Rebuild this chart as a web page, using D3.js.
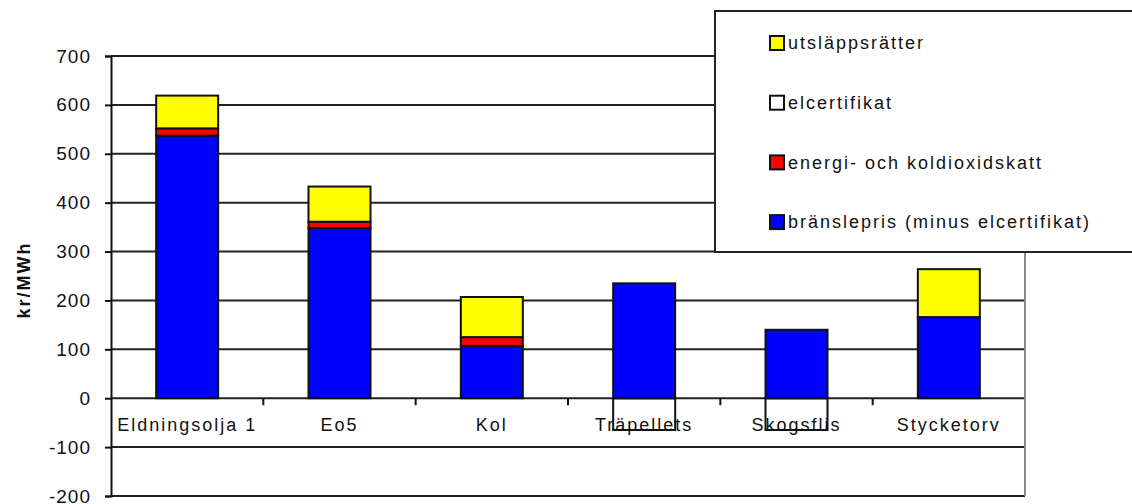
<!DOCTYPE html>
<html>
<head>
<meta charset="utf-8">
<script src="https://cdn.jsdelivr.net/npm/d3@7"></script>
<style>
  body { margin: 0; background: #fff; }
  text { font-family: Arial, "Liberation Sans", sans-serif; fill: #111; }
</style>
</head>
<body>
<div class="chart"></div>
<script>
// fuel cost per MWh, split in components
const categories = ["Eldningsolja 1", "Eo5", "Kol", "Träpellets", "Skogsflis", "Stycketorv"];
const bransle = [537, 348, 107, 235, 140, 166];
const skatt = [15, 13, 18, 0, 0, 0];
const elcert = [0, 0, 0, -65, -65, 0];
const utslapp = [67, 72, 82, 0, 0, 98];
const yTicks = [700, 600, 500, 400, 300, 200, 100, 0, -100, -200];

const legendItems = [
  { label: "utsläppsrätter", color: "#ffff00" },
  { label: "elcertifikat", color: "#ffffff" },
  { label: "energi- och koldioxidskatt", color: "#ff0000" },
  { label: "bränslepris (minus elcertifikat)", color: "#0000ff" }
];

const W = 1132, H = 504;
const plot = { left: 111, right: 1025, top: 56, bottom: 496 };

const svg = d3.select(".chart").append("svg")
  .attr("width", W).attr("height", H);

const x = d3.scaleBand().domain(categories).range([plot.left, plot.right]);
const y = d3.scaleLinear().domain([-200, 700]).range([plot.bottom, plot.top]);

// gridlines
svg.append("g").selectAll("line").data(yTicks).join("line")
  .attr("x1", plot.left).attr("x2", plot.right)
  .attr("y1", d => y(d)).attr("y2", d => y(d))
  .attr("stroke", "#222").attr("stroke-width", 2);

// right edge of plot
svg.append("line")
  .attr("x1", plot.right).attr("x2", plot.right).attr("y1", plot.top).attr("y2", plot.bottom)
  .attr("stroke", "#888").attr("stroke-width", 2);

// stacked bars
const barW = 62;
const rows = categories.map((c, i) => ({
  cat: c,
  parts: [
    { v0: 0, v1: bransle[i], color: "#0000ff" },
    { v0: bransle[i], v1: bransle[i] + skatt[i], color: "#ff0000" },
    { v0: bransle[i] + skatt[i], v1: bransle[i] + skatt[i] + utslapp[i], color: "#ffff00" },
    { v0: 0, v1: elcert[i], color: "none" }
  ].filter(p => p.v1 !== p.v0)
}));

// y axis
const yAxis = d3.axisLeft(y).tickValues(yTicks).tickSize(6).tickPadding(14)
  .tickFormat(d => String(d));
const ga = svg.append("g").attr("transform", `translate(${plot.left},0)`).call(yAxis);
ga.select(".domain").attr("stroke", "#111").attr("stroke-width", 2);
ga.selectAll(".tick line").attr("stroke", "#111").attr("stroke-width", 2);
ga.selectAll(".tick text").style("font-size", "19px").style("letter-spacing", "1px").attr("fill", "#222");

// x axis at zero
const xAxis = d3.axisBottom(x).tickSize(0).tickPadding(20);
const gx = svg.append("g").attr("transform", `translate(0,${y(0)})`).call(xAxis);
gx.select(".domain").remove();
gx.selectAll(".tick text").style("font-size", "18px").style("letter-spacing", "2px").attr("fill", "#222");
// category separators
svg.append("g").selectAll("line").data(categories.slice(1)).join("line")
  .attr("x1", d => x(d)).attr("x2", d => x(d))
  .attr("y1", y(0)).attr("y2", y(0) + 7)
  .attr("stroke", "#111").attr("stroke-width", 2);

const groups = svg.append("g").selectAll("g").data(rows).join("g");
groups.selectAll("rect").data(d => d.parts.map(p => ({ ...p, cat: d.cat }))).join("rect")
  .attr("x", d => x(d.cat) + x.bandwidth() / 2 - barW / 2)
  .attr("width", barW)
  .attr("y", d => y(Math.max(d.v0, d.v1)))
  .attr("height", d => Math.abs(y(d.v0) - y(d.v1)))
  .attr("fill", d => d.color)
  .attr("stroke", "#111").attr("stroke-width", 2);

// y title
svg.append("text")
  .attr("transform", "translate(30,280) rotate(-90)")
  .attr("text-anchor", "middle")
  .style("font-size", "18px").style("font-weight", "bold").style("letter-spacing", "2px")
  .text("kr/MWh");

// legend
const lg = svg.append("g");
lg.append("rect")
  .attr("x", 715).attr("y", 11).attr("width", 440).attr("height", 241)
  .attr("fill", "#fff").attr("stroke", "#222").attr("stroke-width", 2);
const li = lg.selectAll("g").data(legendItems).join("g")
  .attr("transform", (d, i) => `translate(770,${43 + i * 59.7})`);
li.append("rect")
  .attr("x", 0).attr("y", -7).attr("width", 14).attr("height", 14)
  .attr("fill", d => d.color).attr("stroke", "#111").attr("stroke-width", 2);
li.append("text")
  .attr("x", 18).attr("y", 0).attr("dy", "0.35em")
  .style("font-size", "18px").style("letter-spacing", "2px")
  .text(d => d.label);
</script>
</body>
</html>
